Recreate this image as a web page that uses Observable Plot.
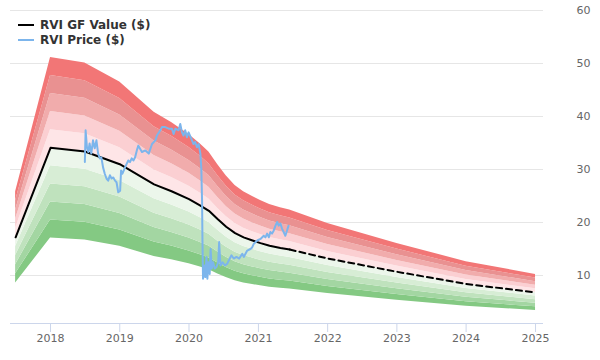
<!DOCTYPE html>
<html>
<head>
<meta charset="utf-8">
<script src="https://cdn.jsdelivr.net/npm/d3@7"></script>
<script src="https://cdn.jsdelivr.net/npm/@observablehq/plot@0.6"></script>
<style>
  html, body { margin: 0; padding: 0; background: #fff; }
  #wrap { position: relative; width: 600px; height: 360px; }
  #legend { position: absolute; left: 18px; top: 18px; font: bold 12px "DejaVu Sans", sans-serif; color: #333; line-height: 15px; }
  #legend .sw { display: inline-block; width: 16px; height: 2px; vertical-align: middle; margin-right: 6px; position: relative; top: -1px; }
</style>
</head>
<body>
<div id="wrap">
  <div id="legend">
    <div><span class="sw" style="background:#000"></span>RVI GF Value ($)</div>
    <div><span class="sw" style="background:#7cb5ec"></span>RVI Price ($)</div>
  </div>
</div>
<script>
// GF Value (solid up to projectionStart, dashed afterwards)
const gfDates = ["2017-07-01","2018-01-01","2018-07-01","2019-01-01","2019-07-01","2019-10-01","2020-01-01","2020-03-01","2020-04-15","2020-06-01","2020-07-15","2020-08-31","2020-10-15","2020-12-01","2021-01-12","2021-03-01","2021-04-27","2021-06-15","2022-01-01","2023-01-01","2024-01-01","2025-01-01"];
const gfValues = [17.2,34.1,33.4,31.0,27.2,25.9,24.4,23.2,22.2,20.6,19.2,18.0,17.2,16.6,16.1,15.6,15.2,14.9,13.2,10.7,8.4,6.8];
const projectionStart = "2021-06-15";

// Price
const priceDates = ["2018-07-01","2018-07-05","2018-07-12","2018-07-19","2018-07-26","2018-08-04","2018-08-13","2018-08-22","2018-08-31","2018-09-09","2018-09-18","2018-09-26","2018-10-05","2018-10-14","2018-10-23","2018-11-01","2018-11-10","2018-11-19","2018-11-28","2018-12-07","2018-12-15","2018-12-24","2019-01-03","2019-01-08","2019-01-15","2019-01-29","2019-02-07","2019-02-15","2019-02-24","2019-03-05","2019-03-14","2019-03-23","2019-04-01","2019-04-09","2019-04-28","2019-05-16","2019-06-03","2019-06-20","2019-07-08","2019-07-16","2019-08-03","2019-08-12","2019-08-29","2019-09-16","2019-10-03","2019-10-12","2019-10-21","2019-11-07","2019-11-16","2019-11-25","2019-12-03","2019-12-12","2019-12-21","2019-12-30","2020-01-17","2020-01-25","2020-02-03","2020-02-12","2020-02-21","2020-03-01","2020-03-06","2020-03-10","2020-03-12","2020-03-15","2020-03-22","2020-03-27","2020-04-02","2020-04-07","2020-04-12","2020-04-19","2020-04-24","2020-04-30","2020-05-07","2020-05-16","2020-05-25","2020-06-03","2020-06-08","2020-06-15","2020-06-26","2020-07-08","2020-07-20","2020-08-03","2020-08-12","2020-08-24","2020-09-07","2020-09-22","2020-10-08","2020-10-16","2020-11-03","2020-11-20","2020-11-29","2020-12-08","2020-12-26","2021-01-12","2021-01-29","2021-02-07","2021-02-16","2021-02-25","2021-03-05","2021-03-14","2021-03-23","2021-04-01","2021-04-10","2021-04-18","2021-04-27","2021-05-06","2021-05-14","2021-05-23","2021-06-01","2021-06-09"];
const priceValues = [31.4,37.4,34.2,33.3,34.9,33.0,35.5,34.0,35.5,33.0,32.1,32.3,30.4,29.2,28.3,27.9,28.9,28.3,28.5,27.9,27.6,25.7,26.0,29.8,29.2,30.4,31.1,31.7,31.4,32.1,31.7,32.3,33.6,34.5,33.3,33.6,33.0,34.8,35.5,36.4,37.4,38.0,38.0,37.7,37.7,36.7,37.7,37.4,38.6,37.0,36.4,37.4,36.1,37.0,35.5,34.8,35.2,34.2,34.8,33.0,30.2,24.0,16.6,9.4,11.9,9.7,13.5,9.4,12.5,10.3,15.0,11.3,12.5,11.3,11.6,12.5,16.3,11.9,12.5,11.9,12.2,13.2,13.8,13.2,13.5,13.2,14.1,13.5,14.7,15.0,15.3,16.0,16.6,16.9,17.5,17.2,17.9,17.2,18.2,17.9,18.5,19.4,20.1,19.4,19.8,18.8,18.2,17.5,18.5,19.4];

// Band multipliers of GF Value (bottom to top) and their fills
const bandEdges = [0.5,0.6,0.7,0.8,0.9,1.0,1.1,1.2,1.3,1.4,1.5];
const bandColors = ["#84c983","#a3d6a2","#bfe2bd","#d7edd5","#ecf6eb","#fee5e7","#fbcfd2","#f1acac","#e99191","#f27676"];

const yTicks = [10,20,30,40,50,60];
const yMin = 0.94, yMax = 60;
const xStart = "2017-06-04", xEnd = "2025-02-12";

const parse = d3.utcParse("%Y-%m-%d");
const gf = gfDates.map((d, i) => ({date: parse(d), value: gfValues[i]}));
const pStart = parse(projectionStart);
const gfSolid = gf.filter(d => d.date <= pStart);
const gfDashed = gf.filter(d => d.date >= pStart);
const price = priceDates.map((d, i) => ({date: parse(d), value: priceValues[i]}));

const bandMarks = bandColors.map((c, i) =>
  Plot.areaY(gf, {x: "date", y1: d => d.value * bandEdges[i], y2: d => d.value * bandEdges[i + 1], fill: c})
);

const chart = Plot.plot({
  width: 600,
  height: 360,
  marginTop: 10,
  marginBottom: 37,
  marginLeft: 10,
  marginRight: 57,
  style: {fontFamily: "DejaVu Sans, sans-serif", fontSize: "11px", background: "#fff"},
  x: {type: "utc", domain: [parse(xStart), parse(xEnd)], label: null},
  y: {domain: [yMin, yMax], label: null},
  marks: [
    Plot.gridY(yTicks, {stroke: "#e6e6e6", strokeOpacity: 1}),
    ...bandMarks,
    Plot.line(gfSolid, {x: "date", y: "value", stroke: "#000", strokeWidth: 2}),
    Plot.line(gfDashed, {x: "date", y: "value", stroke: "#000", strokeWidth: 2, strokeDasharray: "6,4"}),
    Plot.line(price, {x: "date", y: "value", stroke: "#7cb5ec", strokeWidth: 2}),
    Plot.ruleY([yMin], {stroke: "#ccd6eb"}),
    Plot.axisX({ticks: d3.utcYear.every(1), tickFormat: "%Y", tickSize: 9, tickPadding: 2, stroke: "#ccd6eb", fill: "#666", label: null, fontSize: 11}),
    Plot.axisY({anchor: "right", ticks: yTicks, tickSize: 0, tickPadding: 33, fill: "#666", label: null, fontSize: 11})
  ]
});
document.getElementById("wrap").prepend(chart);
</script>
</body>
</html>
